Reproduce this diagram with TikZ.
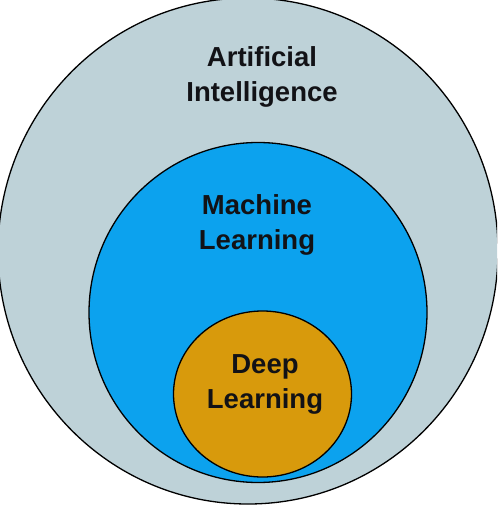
\documentclass[tikz,border=0pt]{standalone}
\usepackage{fontspec}
\setmainfont{Liberation Sans}
\definecolor{aifill}{RGB}{190,210,216}
\definecolor{mlfill}{RGB}{12,162,238}
\definecolor{dlfill}{RGB}{216,154,12}
\definecolor{txt}{RGB}{18,18,22}
\tikzset{
  ring/.style={draw=black, line width=1.3pt},
  lbl/.style={font=\fontsize{27.5}{35}\selectfont\bfseries, text=txt, align=center, inner sep=0pt, anchor=base}
}
\begin{document}
\begin{tikzpicture}[x=1pt,y=-1pt]
\useasboundingbox (0,0) rectangle (497,505);
\fill[white] (0,0) rectangle (497,505);
\begin{scope}
\clip (0,0) rectangle (497,505);
\path[ring, fill=aifill] (248,251) ellipse [x radius=250, y radius=253];
\path[ring, fill=mlfill] (258,312.5) ellipse [x radius=169, y radius=170];
\path[ring, fill=dlfill] (262.5,394) ellipse [x radius=89, y radius=83];
\end{scope}
\node[lbl] (ai) at (262,102) {Artificial\\Intelligence};
\node[lbl] (ml) at (257,249) {Machine\\Learning};
\node[lbl] (dl) at (265,408) {Deep\\Learning};
\end{tikzpicture}
\end{document}
